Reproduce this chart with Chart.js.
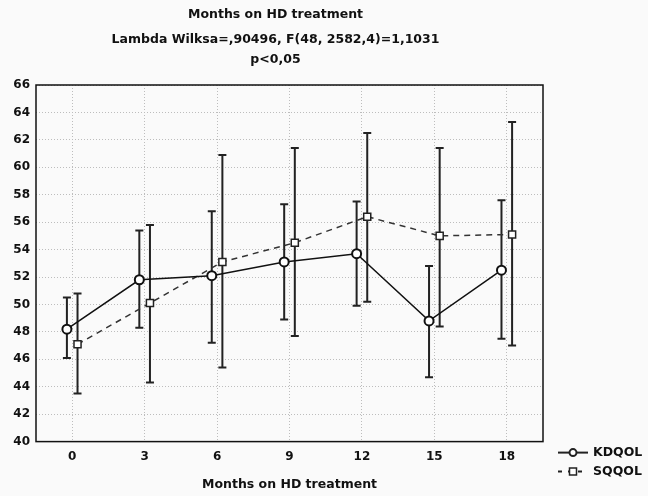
<!DOCTYPE html>
<html>
<head>
<meta charset="utf-8">
<script src="https://cdn.jsdelivr.net/npm/chart.js@4/dist/chart.umd.min.js"></script>
<style>
  html, body { margin: 0; padding: 0; background: #fafafa; }
  #wrap { width: 648px; height: 496px; }
</style>
</head>
<body>
<div id="wrap"><canvas id="qolChart" width="648" height="496"></canvas></div>
<script>
// values
const months = [0, 3, 6, 9, 12, 15, 18];
const kdqolMean = [48.2, 51.8, 52.1, 53.1, 53.7, 48.8, 52.5];
const kdqolLow = [46.1, 48.3, 47.2, 48.9, 49.9, 44.7, 47.5];
const kdqolHigh = [50.5, 55.4, 56.8, 57.3, 57.5, 52.8, 57.6];
const sqqolMean = [47.1, 50.1, 53.1, 54.5, 56.4, 55.0, 55.1];
const sqqolLow = [43.5, 44.3, 45.4, 47.7, 50.2, 48.4, 47.0];
const sqqolHigh = [50.8, 55.8, 60.9, 61.4, 62.5, 61.4, 63.3];
const yTicks = [40, 42, 44, 46, 48, 50, 52, 54, 56, 58, 60, 62, 64, 66];

const FONT = "'DejaVu Sans', Verdana, sans-serif";
const shift = 0.22; // the two series are drawn slightly apart

function toPoints(means, lows, highs, dx) {
  return months.map((m, i) => ({ x: m + dx, y: means[i], lo: lows[i], hi: highs[i] }));
}

// error bars, drawn under the markers
const errorBars = {
  id: "errorBars",
  beforeDatasetsDraw(chart) {
    const { ctx, scales } = chart;
    ctx.save();
    ctx.strokeStyle = "#222";
    ctx.lineWidth = 2;
    chart.data.datasets.forEach((ds) => {
      ds.data.forEach((p) => {
        const x = scales.x.getPixelForValue(p.x);
        const yLo = scales.y.getPixelForValue(p.lo);
        const yHi = scales.y.getPixelForValue(p.hi);
        ctx.beginPath();
        ctx.moveTo(x, yLo);
        ctx.lineTo(x, yHi);
        ctx.moveTo(x - 4, yLo);
        ctx.lineTo(x + 4, yLo);
        ctx.moveTo(x - 4, yHi);
        ctx.lineTo(x + 4, yHi);
        ctx.stroke();
      });
    });
    ctx.restore();
  },
};

// frame round the plot area and the little legend at the bottom right
const frameAndLegend = {
  id: "frameAndLegend",
  afterDraw(chart) {
    const { ctx, chartArea } = chart;
    ctx.save();
    ctx.strokeStyle = "#111";
    ctx.lineWidth = 1.5;
    ctx.strokeRect(chartArea.left, chartArea.top, chartArea.right - chartArea.left, chartArea.bottom - chartArea.top);

    const lx = chartArea.right + 30;
    const rows = [
      { label: "KDQOL", y: chartArea.bottom + 11, dash: [], shape: "circle" },
      { label: "SQQOL", y: chartArea.bottom + 30, dash: [4, 6], shape: "square" },
    ];
    rows.forEach((r) => {
      ctx.strokeStyle = "#222";
      ctx.lineWidth = 2;
      ctx.setLineDash(r.dash);
      ctx.beginPath();
      ctx.moveTo(lx - 15, r.y);
      ctx.lineTo(lx + 15, r.y);
      ctx.stroke();
      ctx.setLineDash([]);
      ctx.fillStyle = "#fff";
      ctx.lineWidth = r.shape === "circle" ? 2 : 1.5;
      ctx.beginPath();
      if (r.shape === "circle") {
        ctx.arc(lx, r.y, 3.5, 0, Math.PI * 2);
      } else {
        ctx.rect(lx - 3.5, r.y - 3.5, 7, 7);
      }
      ctx.fill();
      ctx.stroke();
      ctx.fillStyle = "#111";
      ctx.font = "bold 12.5px " + FONT;
      ctx.textBaseline = "middle";
      ctx.fillText(r.label, lx + 20, r.y);
    });
    ctx.restore();
  },
};

const ctx = document.getElementById("qolChart").getContext("2d");
const chart = new Chart(ctx, {
  type: "line",
  data: {
    datasets: [
      {
        label: "KDQOL",
        data: toPoints(kdqolMean, kdqolLow, kdqolHigh, -shift),
        borderColor: "#111",
        borderWidth: 1.5,
        pointStyle: "circle",
        pointRadius: 4.5,
        pointBorderWidth: 2,
        pointBackgroundColor: "#fff",
        pointBorderColor: "#111",
        tension: 0,
      },
      {
        label: "SQQOL",
        data: toPoints(sqqolMean, sqqolLow, sqqolHigh, shift),
        borderColor: "#333",
        borderWidth: 1.5,
        borderDash: [6, 5],
        pointStyle: "rect",
        pointRadius: 5,
        pointBorderWidth: 1.5,
        pointBackgroundColor: "#fff",
        pointBorderColor: "#222",
        tension: 0,
      },
    ],
  },
  options: {
    responsive: false,
    animation: false,
    layout: { padding: { left: 8, right: 105, top: 0, bottom: 4 } },
    plugins: {
      legend: { display: false },
      tooltip: { enabled: false },
      title: {
        display: true,
        text: "Months on HD treatment",
        color: "#111",
        font: { family: FONT, size: 12.5, weight: "bold" },
        padding: { top: 7, bottom: 8 },
      },
      subtitle: {
        display: true,
        text: ["Lambda Wilksa=,90496, F(48, 2582,4)=1,1031", "p<0,05"],
        color: "#111",
        font: { family: FONT, size: 12.5, weight: "bold", lineHeight: 1.6 },
        padding: { top: 0, bottom: 15 },
      },
    },
    scales: {
      x: {
        type: "linear",
        min: -1.5,
        max: 19.5,
        afterBuildTicks(axis) {
          axis.ticks = months.map((v) => ({ value: v }));
        },
        ticks: {
          color: "#111",
          font: { family: FONT, size: 12, weight: "bold" },
          padding: 8,
        },
        grid: {
          color: "#bdbdbd",
          lineWidth: 1,
          drawTicks: false,
        },
        border: { display: false, dash: [1, 2] },
        title: {
          display: true,
          text: "Months on HD treatment",
          color: "#111",
          font: { family: FONT, size: 12.5, weight: "bold" },
          padding: { top: 5, bottom: 0 },
        },
      },
      y: {
        min: 40,
        max: 66,
        afterBuildTicks(axis) {
          axis.ticks = yTicks.map((v) => ({ value: v }));
        },
        afterFit(axis) {
          axis.width = 28;
        },
        ticks: {
          color: "#111",
          font: { family: FONT, size: 12, weight: "bold" },
          padding: 6,
        },
        grid: {
          color: "#bdbdbd",
          lineWidth: 1,
          drawTicks: false,
        },
        border: { display: false, dash: [1, 2] },
      },
    },
  },
  plugins: [errorBars, frameAndLegend],
});
</script>
</body>
</html>
